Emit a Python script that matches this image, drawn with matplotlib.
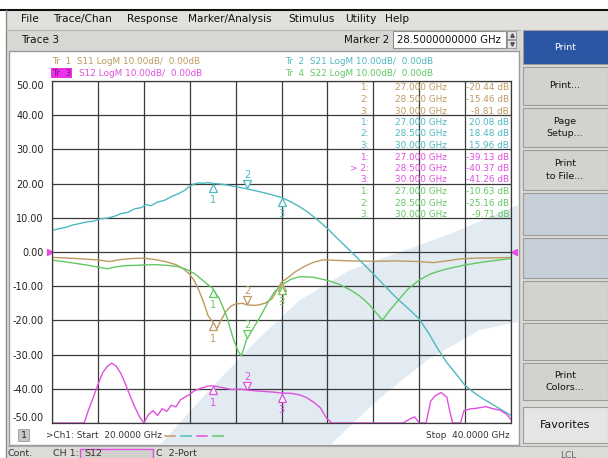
"""
Network analyser screen: S-parameters of a Ka-band amplifier, 20-40 GHz.

Four LogM traces (S11, S21, S12, S22) at 10 dB/div, three markers per
trace and the marker readout table, inside the instrument's window chrome.
"""

import matplotlib
matplotlib.use("Agg")
import matplotlib.pyplot as plt
import matplotlib.transforms as mtransforms
from matplotlib.patches import Polygon, Rectangle

plt.rcParams["font.family"] = ["DejaVu Sans"]

# Trace data (GHz, dB). -50 dB is where the screen clips.
s21_freq = [20.0, 20.3, 20.6, 20.9, 21.2, 21.5, 21.8, 22.1, 22.4, 22.7, 23.0, 23.3,
            23.6, 23.9, 24.1, 24.3, 24.6, 24.9, 25.2, 25.5, 25.8, 26.0, 26.2, 26.4,
            26.6, 26.8, 27.0, 27.3, 27.6, 28.0, 28.5, 29.0, 29.5, 30.0, 30.4, 30.8,
            31.2, 31.6, 32.0, 32.4, 32.8, 33.2, 33.6, 34.0, 34.4, 34.8, 35.2, 35.6,
            36.0, 36.4, 36.8, 37.2, 37.6, 38.0, 38.4, 38.8, 39.2, 39.6, 40.0]
s21_db = [6.3, 6.8, 7.2, 7.9, 8.3, 8.8, 9.0, 9.7, 9.9, 10.4, 11.2, 11.6,
          12.6, 13.0, 13.9, 13.5, 14.6, 15.1, 16.2, 17.0, 18.1, 19.2, 19.9, 20.2,
          20.1, 20.3, 20.08, 19.9, 19.6, 19.1, 18.48, 17.7, 16.9, 15.96, 14.7, 13.2,
          11.4, 9.2, 6.9, 4.2, 1.6, -1.0, -3.7, -6.4, -9.2, -12.0, -14.6, -17.0,
          -19.6, -23.6, -28.2, -32.3, -35.6, -39.0, -41.2, -43.0, -44.6, -46.2, -47.8]

s11_freq = [20.0, 20.5, 21.0, 21.5, 22.0, 22.5, 23.0, 23.5, 24.0, 24.5, 25.0, 25.4,
            25.7, 26.0, 26.2, 26.4, 26.6, 26.8, 27.0, 27.1, 27.2, 27.4, 27.6, 27.8,
            28.0, 28.3, 28.5, 28.8, 29.0, 29.3, 29.6, 29.8, 30.0, 30.3, 30.6, 31.0,
            31.4, 31.8, 32.2, 33.0, 34.0, 35.0, 36.0, 36.6, 37.2, 37.8, 38.5, 39.2, 40.0]
s11_db = [-1.6, -1.7, -1.9, -2.1, -2.3, -2.8, -2.2, -1.9, -1.8, -2.2, -2.9, -3.7,
          -4.8, -6.5, -8.4, -11.2, -14.6, -18.6, -20.44, -22.6, -22.2, -19.5, -17.2, -15.8,
          -15.2, -15.0, -15.46, -15.6, -15.5, -14.9, -13.6, -11.2, -8.81, -7.4, -5.8, -4.2,
          -3.0, -2.3, -2.4, -2.6, -2.7, -2.6, -2.8, -3.1, -2.6, -2.0, -1.8, -1.7, -1.6]

s12_freq = [20.0, 21.0, 21.4, 21.6, 21.8, 22.0, 22.2, 22.4, 22.6, 22.8, 23.0, 23.2,
            23.4, 23.6, 23.8, 24.0, 24.2, 24.4, 24.6, 24.8, 25.0, 25.2, 25.4, 25.6,
            25.8, 26.0, 26.2, 26.5, 26.8, 27.0, 27.4, 27.8, 28.2, 28.5, 28.9, 29.3,
            29.7, 30.0, 30.4, 30.8, 31.1, 31.4, 31.7, 31.95, 32.2, 34.0, 35.3, 35.6,
            35.8, 36.0, 36.3, 36.5, 36.7, 36.96, 37.2, 37.35, 37.45, 37.8, 37.95, 38.2,
            38.5, 38.9, 39.2, 39.5, 39.8, 40.0]
s12_db = [-50.0, -50.0, -50.0, -46.0, -42.5, -38.8, -35.4, -33.5, -32.5, -33.4, -35.5, -38.6,
          -42.0, -45.2, -48.0, -50.0, -47.6, -46.4, -47.8, -45.8, -46.6, -44.8, -45.3, -43.2,
          -42.4, -41.6, -40.6, -39.8, -39.2, -39.13, -39.6, -40.2, -40.1, -40.37, -40.6, -40.8,
          -41.0, -41.26, -41.3, -41.8, -42.6, -43.9, -45.6, -48.5, -50.0, -50.0, -50.0, -48.8,
          -48.2, -50.0, -50.0, -43.6, -42.0, -41.1, -42.4, -47.0, -50.0, -50.0, -46.4, -45.9,
          -45.7, -45.2, -45.8, -46.2, -47.4, -49.0]

s22_freq = [20.0, 20.5, 21.0, 21.5, 22.0, 22.4, 22.8, 23.2, 23.6, 24.0, 24.5, 25.0,
            25.5, 25.9, 26.2, 26.5, 26.8, 27.0, 27.3, 27.6, 27.9, 28.1, 28.25, 28.5,
            28.8, 29.1, 29.4, 29.7, 30.0, 30.4, 30.8, 31.4, 32.0, 32.5, 33.0, 33.4,
            33.8, 34.1, 34.4, 34.7, 35.1, 35.5, 36.0, 36.5, 37.0, 37.5, 38.0, 38.7,
            39.4, 40.0]
s22_db = [-2.4, -2.8, -3.3, -3.8, -4.4, -4.9, -4.3, -4.0, -3.9, -3.8, -3.7, -3.9,
          -4.3, -5.2, -6.3, -7.9, -9.6, -10.63, -13.8, -18.6, -25.4, -28.9, -30.4, -25.16,
          -22.0, -18.6, -14.8, -11.6, -9.71, -8.0, -7.2, -7.4, -8.3, -9.4, -11.1, -12.8,
          -15.2, -17.6, -19.9, -17.2, -14.0, -10.9, -8.2, -6.4, -5.3, -4.5, -3.8, -3.0,
          -2.4, -1.9]

# Marker readout (same values as the table on screen)
marker_freqs = [27.0, 28.5, 30.0]
s11_markers = [-20.44, -15.46, -8.81]
s21_markers = [20.08, 18.48, 15.96]
s12_markers = [-39.13, -40.37, -41.26]
s22_markers = [-10.63, -25.16, -9.71]

y_ticks = [-50, -40, -30, -20, -10, 0, 10, 20, 30, 40, 50]
menu_items = ["File", "Trace/Chan", "Response", "Marker/Analysis", "Stimulus", "Utility", "Help"]
button_labels = ["Print", "Print...", "Page\nSetup...", "Print\nto File...", "", "", "", "",
                 "Print\nColors...", "Favorites"]

# Screen colours
C_S11 = "#bd9a60"
C_S21 = "#4fb8c2"
C_S12 = "#e050e0"
C_S22 = "#62c862"
GRID = "#3a3a3a"
CHROME = "#dddbd7"

W, H = 608, 458
PLOT_X0, PLOT_X1, PLOT_Y0, PLOT_Y1 = 52, 511, 81, 423

fig = plt.figure(figsize=(W / 100, H / 100), dpi=100)

# Pixel-space layer for the window chrome (y grows downward like the screen)
ui = fig.add_axes([0, 0, 1, 1], zorder=0)
ui.set_xlim(0, W)
ui.set_ylim(H, 0)
ui.axis("off")

ui.add_patch(Rectangle((0, 0), W, H, color=CHROME))
ui.add_patch(Rectangle((0, 0), W, 9, color="white"))
ui.add_patch(Rectangle((0, 0), 6, H, color="white"))
ui.plot([0, W], [9.5, 9.5], color="#111111", lw=1.5)
ui.plot([6, 6], [10, H], color="#8a8a8a", lw=1)
ui.add_patch(Rectangle((6.5, 10), W, 19, color="#e2e0dc"))
ui.plot([6, 520], [29.5, 29.5], color="#b8b6b2", lw=0.8)
ui.add_patch(Rectangle((7, 30), 513, 20, color="#d9d7d3"))

menu_x = [21, 53, 127, 188, 288, 345, 385]
for x, item in zip(menu_x, menu_items):
    ui.text(x, 19, item, fontsize=7.6, color="#111111", va="center", ha="left")

ui.text(21, 40, "Trace 3", fontsize=7.6, color="#111111", va="center")
ui.text(389, 40, "Marker 2", fontsize=7.4, color="#111111", va="center", ha="right")
ui.add_patch(Rectangle((393, 31), 113, 17, facecolor="white", edgecolor="#8c8c8c", lw=0.8))
ui.text(397, 40, "28.5000000000 GHz", fontsize=7.3, color="#111111", va="center")
ui.add_patch(Rectangle((507, 31), 9, 8, facecolor="#e4e4e4", edgecolor="#8c8c8c", lw=0.6))
ui.add_patch(Rectangle((507, 40), 9, 8, facecolor="#e4e4e4", edgecolor="#8c8c8c", lw=0.6))
ui.plot([511.5], [35], marker="^", ms=2.5, color="#555555")
ui.plot([511.5], [44], marker="v", ms=2.5, color="#555555")

# White trace window
ui.add_patch(Rectangle((9, 51), 510, 394, facecolor="white", edgecolor="#9a9a9a", lw=1))

# Light blue swoosh behind the traces
swoosh = Polygon([(160, 445), (205, 395), (252, 345), (300, 300), (350, 270), (400, 252),
                  (450, 234), (518, 205), (518, 322), (480, 330), (430, 358), (380, 398),
                  (330, 445)], closed=True, facecolor="#e1ebf1", edgecolor="none")
ui.add_patch(swoosh)
swoosh.set_clip_path(Rectangle((10, 52), 508, 392, transform=ui.transData))

# Soft-key column on the right
btn_tops = [30, 67, 108, 150, 193, 238, 281, 323, 363, 407]
btn_bots = [64, 105, 147, 190, 235, 278, 320, 360, 400, 443]
for i, (t, b, label) in enumerate(zip(btn_tops, btn_bots, button_labels)):
    if i == 0:
        face, txt = "#2b56a3", "white"
    elif i in (4, 5):
        face, txt = "#c6cfd7", "#111111"
    elif i == 9:
        face, txt = "#e6e5e3", "#111111"
    else:
        face, txt = "#d3d2cf", "#111111"
    ui.add_patch(Rectangle((523, t), 85, b - t, facecolor=face, edgecolor="#9b9b9b", lw=0.8))
    fs = 8 if i == 9 else 6.8
    ui.text(565, (t + b) / 2, label, fontsize=fs, color=txt, ha="center", va="center",
            linespacing=1.5)

# Status bar
ui.plot([6, W], [445.5, 445.5], color="#a8a8a8", lw=0.8)
ui.text(8, 454, "Cont.", fontsize=6.8, color="#333333", va="center")
ui.text(53, 454, "CH 1:", fontsize=6.8, color="#333333", va="center")
ui.add_patch(Rectangle((80, 449), 73, 12, facecolor="#d2d0cc", edgecolor=C_S12, lw=1))
ui.text(84, 454, "S12", fontsize=6.8, color="#333333", va="center")
ui.text(156, 454, "C  2-Port", fontsize=6.8, color="#333333", va="center")
ui.text(568, 455, "LCL", fontsize=6.5, color="#666666", va="center", ha="center")

# Trace plot
ax = fig.add_axes([PLOT_X0 / W, 1 - PLOT_Y1 / H, (PLOT_X1 - PLOT_X0) / W,
                   (PLOT_Y1 - PLOT_Y0) / H], zorder=1)
ax.patch.set_alpha(0)
ax.set_xlim(20, 40)
ax.set_ylim(-50, 50)
ax.set_xticks(range(20, 41, 2))
ax.set_xticklabels([])
ax.set_yticks(y_ticks)
ax.set_yticklabels([f"{v:.2f}" for v in y_ticks])
ax.tick_params(length=0, pad=6, labelsize=7, labelcolor="#222222")
labels = ax.get_yticklabels()
labels[0].set_va("bottom")
labels[-1].set_va("top")
ax.grid(True, color=GRID, lw=0.9)
for sp in ax.spines.values():
    sp.set_color(GRID)
    sp.set_linewidth(0.9)

traces = [
    (s11_freq, s11_db, s11_markers, C_S11),
    (s21_freq, s21_db, s21_markers, C_S21),
    (s12_freq, s12_db, s12_markers, C_S12),
    (s22_freq, s22_db, s22_markers, C_S22),
]
for freq, db, mk, color in traces:
    ax.plot(freq, db, color=color, lw=1.0)

# Marker triangles: 1 and 3 sit under the trace, active marker 2 above it
below = mtransforms.offset_copy(ax.transData, fig=fig, x=0, y=-4.5, units="dots")
above = mtransforms.offset_copy(ax.transData, fig=fig, x=0, y=4.5, units="dots")
for freq, db, mk, color in traces:
    for n, (f, v) in enumerate(zip(marker_freqs, mk), start=1):
        if n == 2:
            ax.plot(f, v, marker="v", ms=6, mfc="white", mec=color, mew=0.9,
                    transform=above, clip_on=False)
            ax.annotate(str(n), (f, v), xytext=(0, 13.5), textcoords="offset pixels",
                        ha="center", va="center", fontsize=7, color=color)
        else:
            ax.plot(f, v, marker="^", ms=6, mfc="white", mec=color, mew=0.9,
                    transform=below, clip_on=False)
            ax.annotate(str(n), (f, v), xytext=(0, -17), textcoords="offset pixels",
                        ha="center", va="center", fontsize=7, color=color)

# Reference level arrows at 0 dB
ax.plot(20, 0, marker=">", ms=4, color=C_S12, clip_on=False,
        transform=mtransforms.offset_copy(ax.transData, fig=fig, x=-2, y=0, units="dots"))
ax.plot(40, 0, marker="<", ms=4, color=C_S12, clip_on=False,
        transform=mtransforms.offset_copy(ax.transData, fig=fig, x=3, y=0, units="dots"))

# Overlay layer for the text on top of the grid
top = fig.add_axes([0, 0, 1, 1], zorder=2)
top.set_xlim(0, W)
top.set_ylim(H, 0)
top.axis("off")
top.patch.set_alpha(0)

hdr_fs = 6.4
top.text(52, 61, "Tr  1  S11 LogM 10.00dB/  0.00dB", fontsize=hdr_fs, color=C_S11, va="center")
top.text(285, 61, "Tr  2  S21 LogM 10.00dB/  0.00dB", fontsize=hdr_fs, color=C_S21, va="center")
top.text(52, 73, "Tr  3", fontsize=hdr_fs, color="#7a127a", va="center",
         bbox=dict(facecolor="#ee30ee", edgecolor="none", pad=0.6))
top.text(79, 73, "S12 LogM 10.00dB/  0.00dB", fontsize=hdr_fs, color=C_S12, va="center")
top.text(285, 73, "Tr  4  S22 LogM 10.00dB/  0.00dB", fontsize=hdr_fs, color=C_S22, va="center")

# Marker readout table
row = 0
for name, mk, color in [("S11", s11_markers, C_S11), ("S21", s21_markers, C_S21),
                        ("S12", s12_markers, C_S12), ("S22", s22_markers, C_S22)]:
    for n, (f, v) in enumerate(zip(marker_freqs, mk), start=1):
        y = 88 + 11.5 * row
        idx = f"> {n}:" if (name == "S12" and n == 2) else f"{n}:"
        top.text(369, y, idx, fontsize=hdr_fs, color=color, ha="right", va="center")
        top.text(395, y, f"{f:.3f} GHz", fontsize=hdr_fs, color=color, va="center")
        top.text(509, y, f"{v:.2f} dB", fontsize=hdr_fs, color=color, ha="right", va="center")
        row += 1

# Channel line at the bottom of the trace window
top.add_patch(Rectangle((18, 429), 11, 12, facecolor="#c8c8c8", edgecolor="#9a9a9a", lw=0.6))
top.text(23.5, 435.5, "1", fontsize=6.8, color="#222222", ha="center", va="center")
top.text(46, 435.5, ">Ch1: Start  20.0000 GHz", fontsize=hdr_fs, color="#333333", va="center")
for x0, color in zip([165, 181, 197, 213], [C_S11, C_S21, C_S12, C_S22]):
    top.plot([x0, x0 + 10], [435.5, 435.5], color=color, lw=1.1)
top.text(510, 435.5, "Stop  40.0000 GHz", fontsize=hdr_fs, color="#333333", ha="right",
         va="center")

fig.savefig("out.png", dpi=100)
